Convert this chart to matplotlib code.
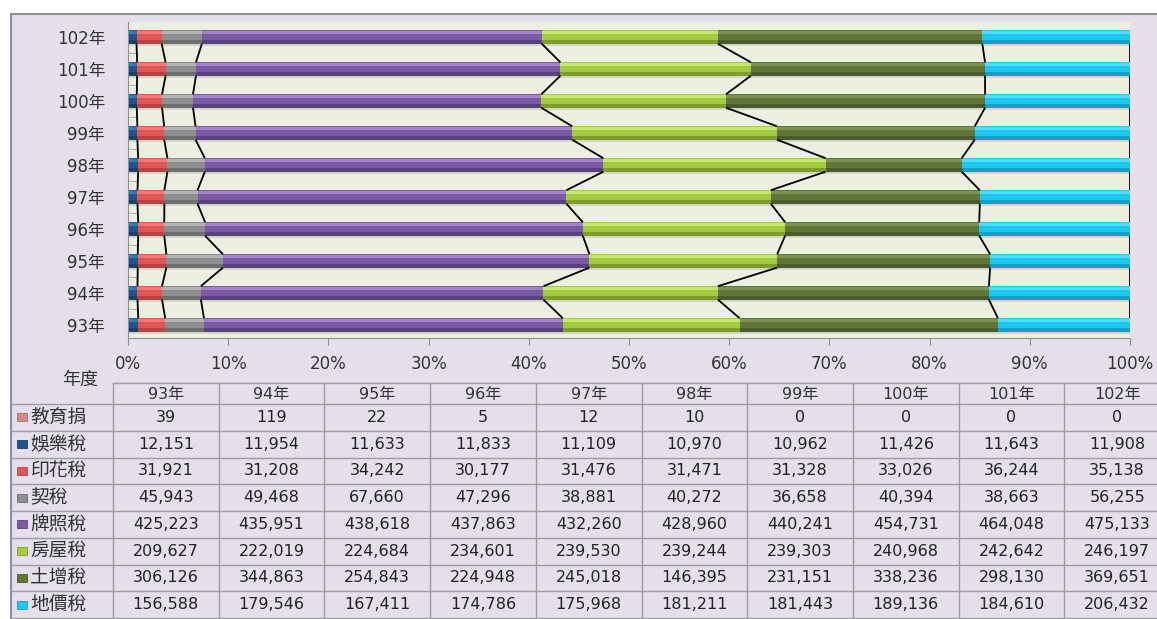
import numpy as np
import matplotlib
matplotlib.use("Agg")
import matplotlib.pyplot as plt
from matplotlib.patches import Rectangle

plt.rcParams['font.family'] = ['DejaVu Sans', 'Noto Sans CJK TC']

years = ["93年", "94年", "95年", "96年", "97年", "98年", "99年", "100年", "101年", "102年"]
series_names = ["教育捐", "娛樂稅", "印花稅", "契稅", "牌照稅", "房屋稅", "土增稅", "地價稅"]
edu_tax = [39, 119, 22, 5, 12, 10, 0, 0, 0, 0]
ent_tax = [12151, 11954, 11633, 11833, 11109, 10970, 10962, 11426, 11643, 11908]
stamp_tax = [31921, 31208, 34242, 30177, 31476, 31471, 31328, 33026, 36244, 35138]
deed_tax = [45943, 49468, 67660, 47296, 38881, 40272, 36658, 40394, 38663, 56255]
license_tax = [425223, 435951, 438618, 437863, 432260, 428960, 440241, 454731, 464048, 475133]
house_tax = [209627, 222019, 224684, 234601, 239530, 239244, 239303, 240968, 242642, 246197]
land_inc_tax = [306126, 344863, 254843, 224948, 245018, 146395, 231151, 338236, 298130, 369651]
land_val_tax = [156588, 179546, 167411, 174786, 175968, 181211, 181443, 189136, 184610, 206432]
xticks = [0, 10, 20, 30, 40, 50, 60, 70, 80, 90, 100]

# colours: base / light top / dark bottom
base = ["#d48a8a", "#1f5590", "#de5656", "#8e8e8e", "#7a5aa2", "#a2cc3e", "#62763a", "#1ec6ee"]
light = ["#eab0b0", "#3a75b0", "#f07a7a", "#b2b2b2", "#a184c8", "#c2e874", "#7c9250", "#52dcff"]
dark = ["#b06a6a", "#163f6c", "#b84242", "#6e6e6e", "#5a4080", "#7e9e2c", "#4a5a2a", "#10a0c8"]

W, H = 1157, 619
fig = plt.figure(figsize=(W / 100, H / 100), dpi=100)

# background frame + table live in a pixel-coordinate axes
bg = fig.add_axes([0, 0, 1, 1], zorder=0)
bg.set_xlim(0, W)
bg.set_ylim(H, 0)
bg.axis("off")
bg.add_patch(Rectangle((10.5, 13.5), W, H, facecolor="#e5dfec", edgecolor="#8f8f8f", lw=1.5))

# main chart
ax = fig.add_axes([128 / W, (H - 338) / H, (1130 - 128) / W, 316 / H], zorder=1)
ax.set_facecolor("#eceedf")

vals = np.array([edu_tax, ent_tax, stamp_tax, deed_tax, license_tax,
                 house_tax, land_inc_tax, land_val_tax], dtype=float)
shares = vals / vals.sum(axis=0) * 100
cum = np.cumsum(shares, axis=0)
left = cum - shares
y = np.arange(len(years))
bh = 0.42

# faint shadow under each bar
ax.barh(y - bh / 2 - 0.03, 100, height=0.07, color="#d3d5c6", lw=0)
for k in range(len(series_names)):
    ax.barh(y, shares[k], left=left[k], height=bh, color=base[k], lw=0)
    ax.barh(y + bh * 0.36, shares[k], left=left[k], height=bh * 0.22, color=light[k], lw=0)
    ax.barh(y - bh * 0.37, shares[k], left=left[k], height=bh * 0.26, color=dark[k], lw=0)

# series lines
for k in range(len(series_names)):
    for i in range(len(years) - 1):
        ax.plot([cum[k, i], cum[k, i + 1]], [i + bh / 2, i + 1 - bh / 2],
                color="black", lw=1.3, solid_capstyle="butt")

ax.set_xlim(0, 100)
ax.set_ylim(-0.41, 9.47)
ax.set_xticks(xticks)
ax.set_xticklabels([f"{t}%" for t in xticks])
ax.set_yticks(y)
ax.set_yticklabels(years)
ax.set_yticks(y[:-1] + 0.5, minor=True)
ax.tick_params(axis="x", length=5, color="#909090", pad=7, labelsize=12, labelcolor="#333333")
ax.tick_params(axis="y", which="major", length=0, pad=16.5, labelsize=12, labelcolor="#333333")
ax.tick_params(axis="y", which="minor", length=7, direction="in", color="#a0a0a0")
for s in ("top", "right"):
    ax.spines[s].set_visible(False)
for s in ("left", "bottom"):
    ax.spines[s].set_color("#909090")

# data table
col_x0, col_w = 113, 105.7
hdr_top, hdr_bot, row_h = 383, 404, 26.75
n_rows = len(series_names)
tbl_bot = hdr_bot + n_rows * row_h
lc = "#9c9c9c"
bg.plot([col_x0, W], [hdr_top, hdr_top], color=lc, lw=1)
for r in range(n_rows + 1):
    yy = hdr_bot + r * row_h
    bg.plot([11, W], [yy, yy], color=lc, lw=1)
for c in range(len(years) + 1):
    xx = col_x0 + c * col_w
    bg.plot([xx, xx], [hdr_top, tbl_bot], color=lc, lw=1)

bg.text(80, 380, "年度", ha="center", va="center", fontsize=13, color="#333333")
for c, yr in enumerate(years):
    bg.text(col_x0 + (c + 0.5) * col_w, (hdr_top + hdr_bot) / 2 + 1, yr,
            ha="center", va="center", fontsize=11.5, color="#333333")

for r, name in enumerate(series_names):
    yc = hdr_bot + (r + 0.5) * row_h
    bg.add_patch(Rectangle((17, yc - 4), 10, 8, facecolor=base[r], edgecolor=dark[r], lw=0.6))
    bg.text(30, yc, name, ha="left", va="center", fontsize=13.5, color="#333333")
    for c in range(len(years)):
        bg.text(col_x0 + (c + 0.5) * col_w, yc, f"{int(vals[r, c]):,}",
                ha="center", va="center", fontsize=11.5, color="#222222")

fig.savefig("out.png", dpi=100)
